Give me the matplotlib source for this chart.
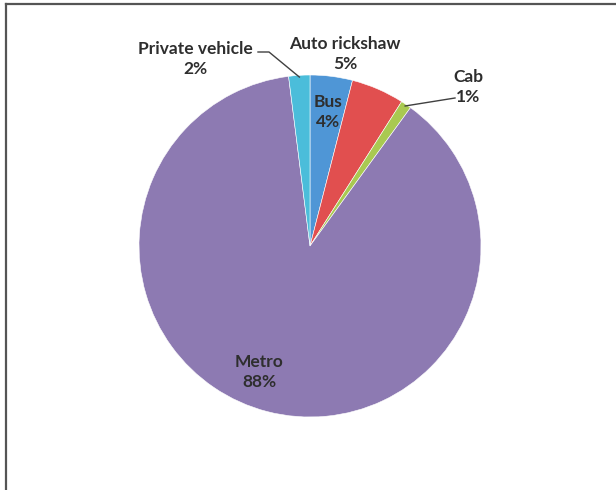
import numpy as np
import matplotlib.pyplot as plt
from matplotlib.lines import Line2D

# mode share, clockwise from 12 o'clock
modes = ["Bus", "Auto rickshaw", "Cab", "Metro", "Private vehicle"]
shares = [4, 5, 1, 88, 2]
colors = ["#4F96D6", "#E14F4F", "#A9C951", "#8D7AB2", "#4BBDDA"]

plt.rcParams["font.family"] = ["Lato", "DejaVu Sans"]

fig = plt.figure(figsize=(6.16, 4.90), dpi=100)
fig.patch.set_facecolor("white")

# pie centred at (310, 246) px, radius 171 px
W, H = 616, 490
cx, cy, r = 310, 246, 171
ax = fig.add_axes([(cx - r) / W, (H - cy - r) / H, 2 * r / W, 2 * r / H])

wedges, _ = ax.pie(shares, colors=colors, startangle=90, counterclock=False,
                   radius=1.0, wedgeprops=dict(edgecolor="white", linewidth=0.4))
ax.set_xlim(-1, 1)
ax.set_ylim(-1, 1)
ax.set_aspect("equal")
ax.axis("off")


def px(x, y):
    # pixel position -> data coords of the pie axes
    return (x - cx) / r, (cy - y) / r


def mid_point(i, rad=1.0):
    a = np.deg2rad((wedges[i].theta1 + wedges[i].theta2) / 2)
    return rad * np.cos(a), rad * np.sin(a)


txt = dict(fontsize=12.5, fontweight="bold", color="#2E2E2E",
           ha="center", va="center", linespacing=1.3)

for i, pos in [(0, (328, 112)), (1, (345, 54)), (2, (468, 87)),
               (3, (259, 372)), (4, (195, 59))]:
    ax.text(*px(*pos), f"{modes[i]}\n{shares[i]}%", clip_on=False, **txt)

# leader lines
lc = dict(color="#404040", lw=1.0, clip_on=False)
x0, y0 = mid_point(4, 0.99)
ex, ey = px(269, 52)
tx, ty = px(258, 52)
ax.plot([x0, ex, tx], [y0, ey, ty], **lc)

x0, y0 = mid_point(2, 0.99)
ex, ey = px(455, 98)
ax.plot([x0, ex], [y0, ey], **lc)

# frame lines on top and left
fig.add_artist(Line2D([6 / W, 1], [1 - 4 / H, 1 - 4 / H], color="#555555", lw=1.6))
fig.add_artist(Line2D([6 / W, 6 / W], [0, 1 - 4 / H], color="#555555", lw=1.6))

fig.savefig("out.png", dpi=100, facecolor="white")
